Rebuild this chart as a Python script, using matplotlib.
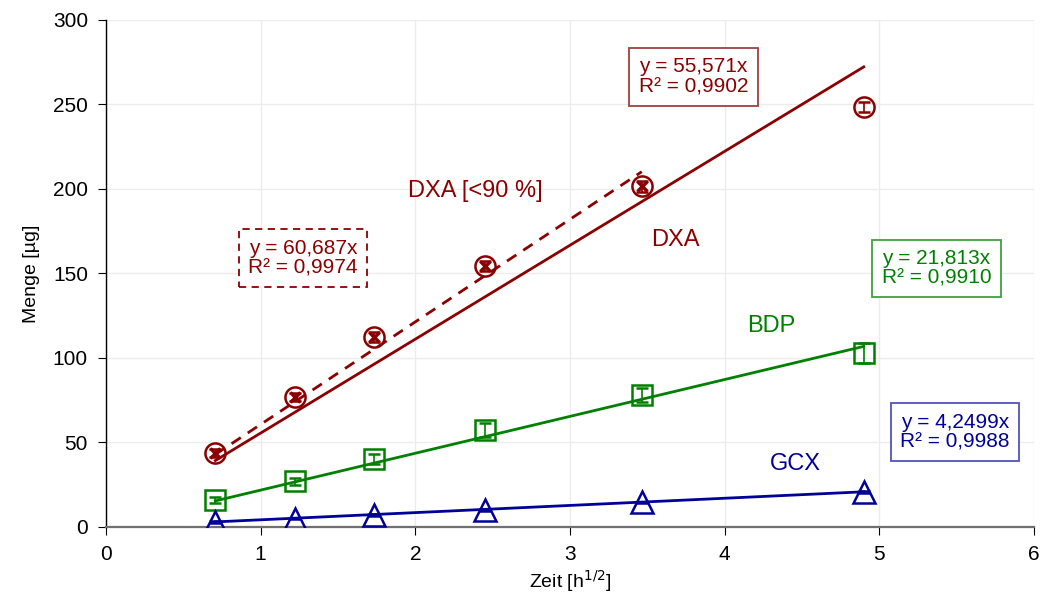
import numpy as np
import matplotlib.pyplot as plt

plt.rcParams['font.family'] = ['Liberation Sans', 'DejaVu Sans']

# sampling times as square root of hours
zeit = [0.707, 1.225, 1.732, 2.449, 3.464, 4.899]

dxa = [43.8, 77.0, 112.5, 154.5, 201.5, 248.5]
dxa_err = [2.5, 2.5, 3.0, 3.0, 3.0, 3.0]
bdp = [16.0, 27.0, 40.0, 57.5, 78.0, 103.0]
bdp_err = [2.0, 2.0, 3.0, 4.0, 4.0, 6.0]
gcx = [3.0, 5.0, 7.0, 10.0, 14.5, 20.5]
gcx_err = [0.5, 0.5, 0.5, 0.5, 0.5, 0.5]

# regression slopes (through the origin)
k_dxa = 55.571
k_dxa90 = 60.687
k_bdp = 21.813
k_gcx = 4.2499

red = '#8b0000'
green = '#008000'
blue = '#000099'

fig = plt.figure(figsize=(10.43, 5.97), dpi=100)
ax = fig.add_axes([0.1016, 0.1173, 0.8898, 0.8492])

x = np.array(zeit)

# trend lines
ax.plot([x[0], x[-1]], [k_dxa * x[0], k_dxa * x[-1]], color=red, lw=2, zorder=2)
ax.plot([x[0], x[4]], [k_dxa90 * x[0], k_dxa90 * x[4]], color=red, lw=2,
        ls=(0, (4, 3)), zorder=2)
ax.plot([x[0], x[-1]], [k_bdp * x[0], k_bdp * x[-1]], color=green, lw=2, zorder=2)
ax.plot([x[0], x[-1]], [k_gcx * x[0], k_gcx * x[-1]], color=blue, lw=2, zorder=2)

# measured points with error bars
ax.errorbar(x, dxa, yerr=dxa_err, fmt='o', ms=14.5, mfc='none', mec=red, mew=1.8,
            ecolor=red, elinewidth=1.2, capsize=4, zorder=3)
ax.plot(x[:5], dxa[:5], 'x', ms=7, mec=red, mew=2.5, zorder=4)
ax.errorbar(x, bdp, yerr=bdp_err, fmt='s', ms=14.5, mfc='none', mec=green, mew=1.8,
            ecolor=green, elinewidth=1.2, capsize=4, zorder=3)
ax.errorbar(x, gcx, yerr=gcx_err, fmt='^', ms=15.5, mfc='none', mec=blue, mew=1.8,
            ecolor=blue, elinewidth=1.2, capsize=4, zorder=3)

# series labels
fs = 17
ax.text(2.385, 199, 'DXA [<90 %]', color=red, fontsize=fs, ha='center', va='center')
ax.text(3.68, 170, 'DXA', color=red, fontsize=fs, ha='center', va='center')
ax.text(4.30, 119, 'BDP', color=green, fontsize=fs, ha='center', va='center')
ax.text(4.46, 37, 'GCX', color=blue, fontsize=fs, ha='center', va='center')

# regression equations
def eq_box(xp, yp, k, r2, col, ls='-', ec=None):
    txt = 'y = %sx\nR² = %s' % (k, r2)
    ax.text(xp, yp, txt, color=col, fontsize=15, ha='center', va='center',
            linespacing=1.07,
            bbox=dict(boxstyle='square,pad=0.45', fc='white', ec=ec or col,
                      lw=1.3, ls=ls))

eq_box(3.798, 266.5, '55,571', '0,9902', red, ec='#a04040')
eq_box(1.273, 159, '60,687', '0,9974', red, ls=(0, (4, 3)))
eq_box(5.37, 153, '21,813', '0,9910', green, ec='#40a040')
eq_box(5.49, 56, '4,2499', '0,9988', blue, ec='#5050c0')

ax.set_xlim(0, 6)
ax.set_ylim(0, 300)
ax.set_xticks(range(0, 7))
ax.set_yticks(range(0, 301, 50))
ax.grid(True, color='#ececec', lw=1)
ax.set_axisbelow(True)
for s in ['top', 'right']:
    ax.spines[s].set_visible(False)
ax.spines['left'].set_color('black')
ax.spines['left'].set_linewidth(1)
ax.spines['bottom'].set_color('#707070')
ax.spines['bottom'].set_linewidth(1.6)
ax.tick_params(direction='out', length=6, color='black', labelsize=15, pad=7)

ax.set_xlabel('Zeit [h$^{1/2}$]', fontsize=14, labelpad=3)
ax.set_ylabel('Menge [µg]', fontsize=14, labelpad=9)

fig.savefig('out.png', dpi=100)
